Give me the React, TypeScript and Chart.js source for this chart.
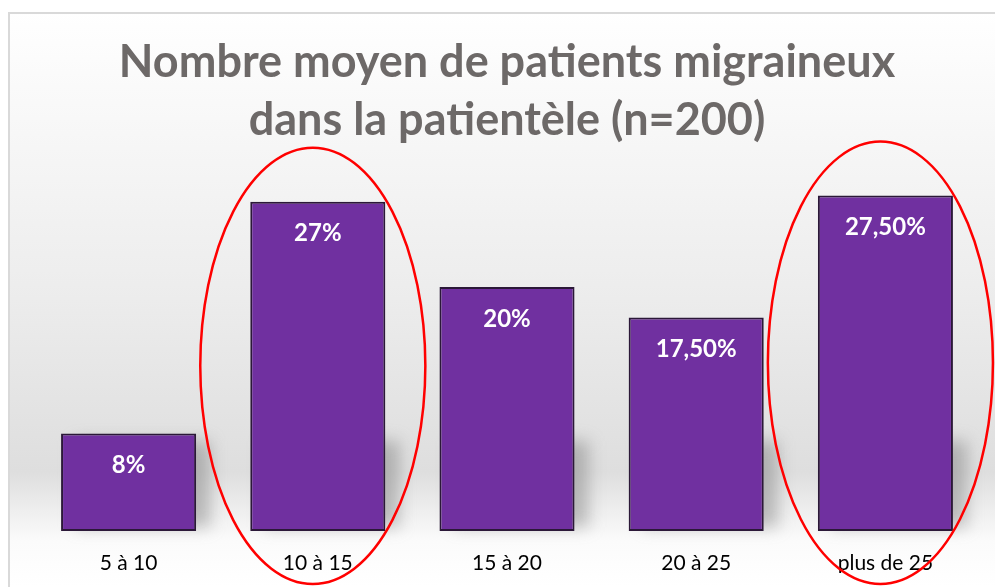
import React, { useEffect, useRef } from "react";
import { Chart, registerables } from "chart.js";

Chart.register(...registerables);

const categories = ["5 à 10", "10 à 15", "15 à 20", "20 à 25", "plus de 25"];
const values = [8, 27, 20, 17.5, 27.5];
const valueLabels = ["8%", "27%", "20%", "17,50%", "27,50%"];
const highlighted = [1, 4];
const titleLines = ["Nombre moyen de patients migraineux", "dans la patientèle (n=200)"];

const FONT = "Lato, 'Open Sans', sans-serif";

const backgroundPlugin = {
  id: "bgPanel",
  beforeDraw(chart: any) {
    const { ctx, width, height } = chart;
    ctx.save();
    ctx.fillStyle = "#ffffff";
    ctx.fillRect(0, 0, width, height);
    const g = ctx.createLinearGradient(0, 12, 0, height);
    g.addColorStop(0, "#ffffff");
    g.addColorStop(0.5, "#ececec");
    g.addColorStop(0.8, "#dedede");
    g.addColorStop(0.92, "#fbfbfb");
    g.addColorStop(1, "#ffffff");
    ctx.fillStyle = g;
    ctx.fillRect(9, 13, width, height);
    ctx.strokeStyle = "#d9d9d9";
    ctx.lineWidth = 2;
    ctx.strokeRect(9, 13, width + 20, height + 20);
    ctx.restore();
  },
};

const shadowPlugin = {
  id: "barShadow",
  beforeDatasetsDraw(chart: any) {
    const { ctx } = chart;
    const meta = chart.getDatasetMeta(0);
    ctx.save();
    ctx.filter = "blur(8px)";
    ctx.fillStyle = "rgba(120,120,120,0.45)";
    meta.data.forEach((bar: any) => {
      const h = bar.base - bar.y;
      const w = bar.width;
      const top = bar.base - Math.min(h, 90);
      ctx.fillRect(bar.x - w / 2 + 14, top, w, bar.base - top - 4);
    });
    ctx.restore();
  },
};

const labelPlugin = {
  id: "valueLabels",
  afterDatasetsDraw(chart: any) {
    const { ctx } = chart;
    const meta = chart.getDatasetMeta(0);
    ctx.save();
    ctx.fillStyle = "#ffffff";
    ctx.font = `bold 24px ${FONT}`;
    ctx.textAlign = "center";
    ctx.textBaseline = "middle";
    meta.data.forEach((bar: any, i: number) => {
      ctx.fillText(valueLabels[i], bar.x, bar.y + 32);
    });
    ctx.restore();
  },
};

const ellipsePlugin = {
  id: "highlightEllipses",
  afterDraw(chart: any) {
    const { ctx } = chart;
    const meta = chart.getDatasetMeta(0);
    ctx.save();
    ctx.strokeStyle = "#ff0000";
    ctx.lineWidth = 2.5;
    highlighted.forEach((i) => {
      const bar = meta.data[i];
      const cx = bar.x - 5;
      const top = bar.y - 54;
      const bottom = bar.base + 53;
      const rx = bar.width / 2 + 45;
      const ry = (bottom - top) / 2;
      ctx.beginPath();
      ctx.ellipse(cx, (top + bottom) / 2, rx, ry, 0, 0, Math.PI * 2);
      ctx.stroke();
    });
    ctx.restore();
  },
};

export default function App() {
  const ref = useRef<HTMLCanvasElement>(null);
  useEffect(() => {
    document.body.style.margin = "0";
    const chart = new Chart(ref.current!, {
      type: "bar",
      data: {
        labels: categories,
        datasets: [
          {
            data: values,
            backgroundColor: "#7030A0",
            borderColor: "#2b1838",
            borderWidth: 2,
            borderSkipped: false,
            barPercentage: 0.714,
            categoryPercentage: 1,
          },
        ],
      },
      options: {
        responsive: false,
        animation: false,
        layout: { padding: { left: 34, right: 15, top: 0, bottom: 14 } },
        plugins: {
          legend: { display: false },
          tooltip: { enabled: false },
          title: {
            display: true,
            text: titleLines,
            color: "#6d6968",
            font: { family: FONT, size: 45, weight: "bold", lineHeight: 1.29 },
            padding: { top: 33, bottom: 16 },
          },
        },
        scales: {
          x: {
            grid: { display: false, drawTicks: false },
            border: { display: false },
            ticks: { color: "#000000", font: { family: FONT, size: 21 }, padding: 20, maxRotation: 0 },
            afterFit: (scale: any) => {
              scale.height = 42;
            },
          },
          y: { display: false, min: 0, max: 30 },
        },
      },
      plugins: [backgroundPlugin, shadowPlugin, labelPlugin, ellipsePlugin],
    });
    return () => chart.destroy();
  }, []);
  return <canvas ref={ref} width={995} height={587} style={{ display: "block" }} />;
}
